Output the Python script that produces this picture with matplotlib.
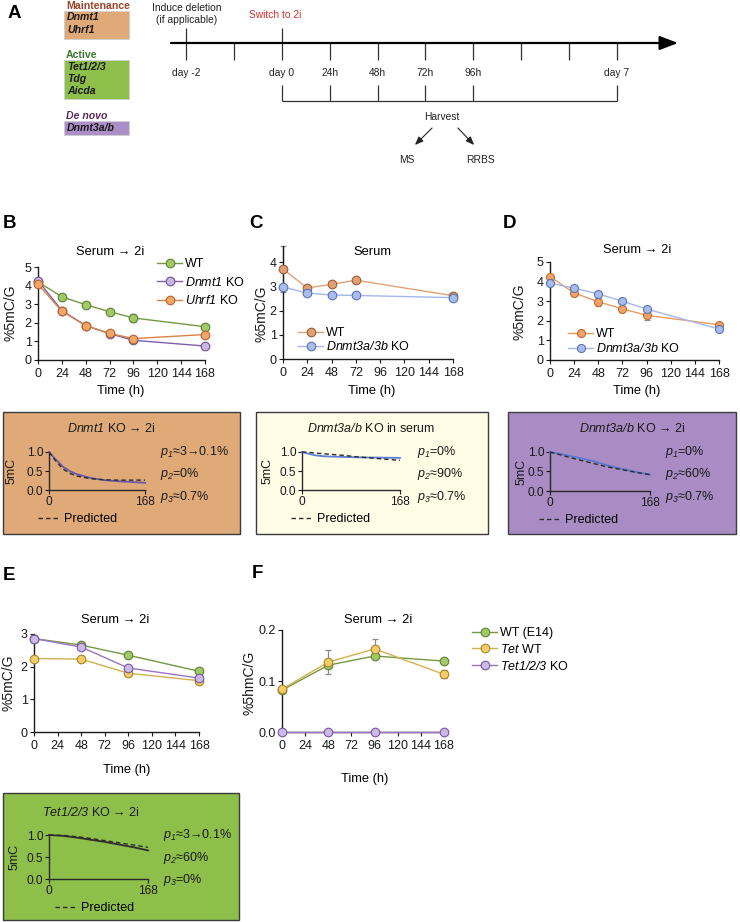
import matplotlib
matplotlib.use('Agg')
import matplotlib.pyplot as plt
from matplotlib.lines import Line2D
from matplotlib.patches import Rectangle

plt.rcParams['font.family'] = ['Liberation Sans', 'DejaVu Sans']
plt.rcParams['mathtext.fontset'] = 'custom'
plt.rcParams['mathtext.rm'] = 'Liberation Sans:italic'
plt.rcParams['mathtext.it'] = 'Liberation Sans:italic'
plt.rcParams['mathtext.bf'] = 'Liberation Sans:bold'

# ---------------- Data ----------------
timeline_days = [-2, -1, 0, 1, 2, 3, 4, 5, 6, 7]
timeline_labels = ['day -2', '', 'day 0', '24h', '48h', '72h', '96h', '', '', 'day 7']
harvest_days = [0, 1, 2, 3, 4, 7]

hours_B = [0, 24, 48, 72, 96, 168]
B_wt = [4.20, 3.40, 2.97, 2.60, 2.26, 1.79]
B_wt_err = [0.05, 0.05, 0.08, 0.05, 0.22, 0.05]
B_dnmt1 = [4.27, 2.66, 1.85, 1.42, 1.06, 0.75]
B_dnmt1_err = [0.05, 0.05, 0.05, 0.05, 0.08, 0.05]
B_uhrf1 = [4.08, 2.62, 1.85, 1.43, 1.15, 1.37]
B_uhrf1_err = [0.05, 0.05, 0.08, 0.06, 0.08, 0.05]

hours_C = [0, 24, 48, 72, 168]
C_wt = [3.71, 2.93, 3.08, 3.25, 2.61]
C_wt_err = [0.93, 0.05, 0.05, 0.05, 0.12]
C_ko = [2.97, 2.72, 2.64, 2.62, 2.53]
C_ko_err = [0.08, 0.05, 0.05, 0.05, 0.05]

hours_D = [0, 24, 48, 72, 96, 168]
D_wt = [4.25, 3.42, 2.97, 2.61, 2.28, 1.80]
D_wt_err = [0.08, 0.08, 0.20, 0.08, 0.22, 0.06]
D_ko = [3.93, 3.66, 3.37, 3.00, 2.60, 1.58]
D_ko_err = [0.06, 0.10, 0.06, 0.06, 0.06, 0.06]

hours_EF = [0, 48, 96, 168]
E_wt = [2.86, 2.66, 2.35, 1.86]
E_wt_err = [0.10, 0.05, 0.05, 0.08]
E_tetwt = [2.25, 2.23, 1.80, 1.57]
E_tetwt_err = [0.05, 0.05, 0.05, 0.05]
E_tko = [2.86, 2.60, 1.96, 1.65]
E_tko_err = [0.05, 0.05, 0.05, 0.05]
F_wt = [0.082, 0.131, 0.149, 0.139]
F_wt_err = [0.003, 0.004, 0.003, 0.003]
F_tetwt = [0.084, 0.137, 0.163, 0.113]
F_tetwt_err = [0.003, 0.024, 0.020, 0.008]
F_tko = [0.0, 0.0, 0.0, 0.0]

hours_model = [0, 12, 24, 36, 48, 72, 96, 120, 144, 168]
ins_B_fit = [1.0, 0.80, 0.62, 0.50, 0.42, 0.32, 0.26, 0.23, 0.21, 0.19]
ins_B_pred = [1.0, 0.76, 0.56, 0.44, 0.37, 0.30, 0.27, 0.26, 0.26, 0.26]
ins_C_fit = [1.0, 0.95, 0.91, 0.89, 0.88, 0.87, 0.86, 0.855, 0.85, 0.845]
ins_C_pred = [1.0, 0.99, 0.97, 0.955, 0.94, 0.91, 0.87, 0.84, 0.81, 0.78]
ins_D_fit = [1.0, 0.965, 0.93, 0.89, 0.85, 0.77, 0.66, 0.57, 0.49, 0.42]
ins_D_pred = [1.0, 0.95, 0.90, 0.85, 0.80, 0.71, 0.62, 0.55, 0.48, 0.42]
ins_E_fit = [1.0, 0.99, 0.98, 0.96, 0.94, 0.89, 0.84, 0.78, 0.72, 0.65]
ins_E_pred = [1.0, 0.995, 0.99, 0.975, 0.96, 0.92, 0.87, 0.82, 0.77, 0.72]

p_B = [r'$p_{1}$≈3→0.1%', r'$p_{2}$=0%', r'$p_{3}$≈0.7%']
p_C = [r'$p_{1}$=0%', r'$p_{2}$≈90%', r'$p_{3}$≈0.7%']
p_D = [r'$p_{1}$=0%', r'$p_{2}$≈60%', r'$p_{3}$≈0.7%']
p_E = [r'$p_{1}$≈3→0.1%', r'$p_{2}$≈60%', r'$p_{3}$=0%']

# ---------------- Figure ----------------
W, H = 740, 922
fig = plt.figure(figsize=(W / 100, H / 100), dpi=100)


def add_ax(l, r, t, b, **kw):
    return fig.add_axes([l / W, 1 - b / H, (r - l) / W, (b - t) / H], **kw)


canvas = fig.add_axes([0, 0, 1, 1])
canvas.set_xlim(0, W)
canvas.set_ylim(H, 0)
canvas.axis('off')

# colours
GREEN = dict(fc='#a3c867', ec='#5f7f32', lc='#759841')
PURPLE = dict(fc='#c9b8e2', ec='#6f4f9d', lc='#7d5faa')
ORANGE = dict(fc='#f2a769', ec='#b5662c', lc='#d68348')
SALMON = dict(fc='#dfa174', ec='#9c5d33', lc='#e2a171')
BLUE = dict(fc='#a9bdeb', ec='#5b72b6', lc='#a2b7ec')
ORANGE_D = dict(fc='#f1a36b', ec='#bd6d32', lc='#ee9b5e')
YELLOW = dict(fc='#f2cd68', ec='#a8852a', lc='#d3b04f')
PURPLE_E = dict(fc='#cbbae5', ec='#7a55a6', lc='#9b73c4')

FS = 9

# ---------------- Panel A ----------------
canvas.text(8, 13, 'A', fontsize=13.5, fontweight='bold', va='center', ha='left')

def gene_box(label, label_color, label_style, y_label, y0, y1, fc, genes, ys):
    canvas.text(66, y_label, label, color=label_color, fontsize=7.6, fontweight='bold',
                fontstyle=label_style, va='center', ha='left')
    canvas.add_patch(Rectangle((64, y0), 65, y1 - y0, fc=fc, ec='#d0d0d0', lw=0.6))
    for g, yy in zip(genes, ys):
        canvas.text(67, yy, g, fontsize=7.6, fontweight='bold', fontstyle='italic',
                    va='center', ha='left', color='#1a1a1a')

gene_box('Maintenance', '#9a4628', 'normal', 6, 11, 39, '#dfaa78', ['Dnmt1', 'Uhrf1'], [17.5, 30])
gene_box('Active', '#3b7a2c', 'normal', 54.5, 60, 99, '#8dbf4a', ['Tet1/2/3', 'Tdg', 'Aicda'], [67.5, 79.5, 91])
gene_box('De novo', '#5a2a5c', 'italic', 116, 121, 135, '#ad8fc8', ['Dnmt3a/b'], [128])

px_day = 47.8
day0 = 282
tl = add_ax(171, 680, 0, 175)
tl.set_xlim((171 - day0) / px_day, (680 - day0) / px_day)
tl.set_ylim(175, 0)
tl.axis('off')
x0, x1 = tl.get_xlim()
tl.annotate('', xy=((678 - day0) / px_day, 43), xytext=(x0, 43),
            arrowprops=dict(arrowstyle='-|>,head_length=1.1,head_width=0.42', lw=1.6,
                            color='black', mutation_scale=10, shrinkA=0, shrinkB=0))
tl.vlines(timeline_days, 43, 60, color='#333333', lw=0.9)
tl.vlines([timeline_days[0], timeline_days[2]], 28, 43, color='#333333', lw=0.9)
for d, lab in zip(timeline_days, timeline_labels):
    if lab:
        tl.text(d, 73, lab, ha='center', va='center', fontsize=7.4, color='#222222')
tl.vlines(harvest_days, 85, 101.5, color='#333333', lw=0.9)
tl.hlines(101.5, harvest_days[0], harvest_days[-1], color='#333333', lw=0.9)
tl.text(timeline_days[0], 8, 'Induce deletion', ha='center', va='center', fontsize=7.4, color='#222222')
tl.text(timeline_days[0], 20, '(if applicable)', ha='center', va='center', fontsize=7.4, color='#222222')
tl.text(-0.15, 14.5, 'Switch to 2i', ha='center', va='center', fontsize=7.4, color='#d2302f')
tl.text(3.35, 117, 'Harvest', ha='center', va='center', fontsize=7.4, color='#222222')
tl.annotate('', xy=(2.78, 145), xytext=(3.14, 128),
            arrowprops=dict(arrowstyle='-|>,head_length=0.5,head_width=0.2', lw=0.8, color='#222222',
                            mutation_scale=10, shrinkA=0, shrinkB=0))
tl.annotate('', xy=(4.02, 145), xytext=(3.68, 128),
            arrowprops=dict(arrowstyle='-|>,head_length=0.5,head_width=0.2', lw=0.8, color='#222222',
                            mutation_scale=10, shrinkA=0, shrinkB=0))
tl.text(2.62, 160, 'MS', ha='center', va='center', fontsize=7.4, color='#222222')
tl.text(4.16, 160, 'RRBS', ha='center', va='center', fontsize=7.4, color='#222222')


# ---------------- helpers ----------------
def style_ax(ax, ylim, yticks, yticklabels=None, xticks=(0, 24, 48, 72, 96, 120, 144, 168)):
    ax.set_xlim(0, 168)
    ax.set_ylim(*ylim)
    for s in ('top', 'right'):
        ax.spines[s].set_visible(False)
    for s in ('left', 'bottom'):
        ax.spines[s].set_linewidth(1.0)
        ax.spines[s].set_color('#1a1a1a')
    ax.set_xticks(list(xticks))
    ax.set_yticks(yticks)
    if yticklabels is not None:
        ax.set_yticklabels(yticklabels)
    ax.tick_params(axis='both', direction='out', length=3, width=0.8, labelsize=FS, colors='#1a1a1a')
    ax.tick_params(axis='x', pad=2.5)
    ax.tick_params(axis='y', pad=1.5)


def series(ax, x, y, err, c, label, ms=6.2, lw=1.0):
    ax.errorbar(x, y, yerr=err, fmt='none', ecolor='#8a8a8a', elinewidth=0.9, capsize=2.5,
                capthick=0.9, zorder=2, clip_on=False)
    ax.plot(x, y, '-', color=c['lc'], lw=lw, marker='o', ms=ms, mfc=c['fc'], mec=c['ec'], mew=0.8,
            label=label, zorder=3, clip_on=False)


def legend_at(ax, x_px, y_px, spacing, fs=FS):
    ax.legend(loc='upper left', bbox_to_anchor=(x_px / W, 1 - y_px / H), bbox_transform=fig.transFigure,
              frameon=False, fontsize=fs, handlelength=2.0, handletextpad=0.25, labelspacing=spacing,
              borderpad=0, borderaxespad=0, numpoints=1)


def ylabel_at(ax, text, x_px, y_px, fs=10):
    fig.text(x_px / W, 1 - y_px / H, text, rotation=90, ha='center', va='center', fontsize=fs, color='#1a1a1a')


def ftext(x_px, y_px, s, **kw):
    fig.text(x_px / W, 1 - y_px / H, s, **kw)


# ---------------- Panel B ----------------
ftext(9, 224, 'B', fontsize=13.5, fontweight='bold', ha='center', va='center')
axB = add_ax(38, 205, 267, 360)
style_ax(axB, (0, 5), [0, 1, 2, 3, 4, 5])
series(axB, hours_B, B_wt, B_wt_err, GREEN, 'WT')
series(axB, hours_B, B_dnmt1, B_dnmt1_err, PURPLE, r'$\mathit{Dnmt1}$ KO')
series(axB, hours_B, B_uhrf1, B_uhrf1_err, ORANGE, r'$\mathit{Uhrf1}$ KO')
legend_at(axB, 157, 258, 0.45)
ftext(110, 252, 'Serum → 2i', fontsize=9.3, ha='center', va='center')
ftext(121, 391, 'Time (h)', fontsize=9.3, ha='center', va='center')
ylabel_at(axB, '%5mC/G', 11, 313)

# ---------------- Panel C ----------------
ftext(256, 224, 'C', fontsize=13.5, fontweight='bold', ha='center', va='center')
axC = add_ax(283, 453, 246, 359)
style_ax(axC, (0, 4.66), [0, 1, 2, 3, 4])
series(axC, hours_C, C_wt, C_wt_err, SALMON, 'WT')
series(axC, hours_C, C_ko, C_ko_err, BLUE, r'$\mathit{Dnmt3a/3b}$ KO')
legend_at(axC, 298, 327, 0.12)
ftext(372, 252, 'Serum', fontsize=9.3, ha='center', va='center')
ftext(372, 391, 'Time (h)', fontsize=9.3, ha='center', va='center')
ylabel_at(axC, '%5mC/G', 261, 314)

# ---------------- Panel D ----------------
ftext(510, 224, 'D', fontsize=13.5, fontweight='bold', ha='center', va='center')
axD = add_ax(550, 719, 262, 360)
style_ax(axD, (0, 5), [0, 1, 2, 3, 4, 5])
series(axD, hours_D, D_wt, D_wt_err, ORANGE_D, 'WT', ms=5.8)
series(axD, hours_D, D_ko, D_ko_err, BLUE, r'$\mathit{Dnmt3a/3b}$ KO', ms=5.8)
legend_at(axD, 568, 328, 0.18)
ftext(637, 250, 'Serum → 2i', fontsize=9.3, ha='center', va='center')
ftext(637, 391, 'Time (h)', fontsize=9.3, ha='center', va='center')
ylabel_at(axD, '%5mC/G', 519, 312)


# ---------------- Insets ----------------
def inset(box, axbox, title, title_x, fit, fit_color, pred, plabels, p_x, pred_x, ylab_x, fc):
    bx0, bx1, by0, by1 = box
    canvas.add_patch(Rectangle((bx0, by0), bx1 - bx0, by1 - by0, fc=fc, ec='#3c3c3c', lw=1.0))
    l, r, t, b = axbox
    ax = add_ax(l, r, t, b)
    ax.patch.set_visible(False)
    ax.set_xlim(0, 168)
    ax.set_ylim(0, 1.0)
    for s in ('top', 'right'):
        ax.spines[s].set_visible(False)
    for s in ('left', 'bottom'):
        ax.spines[s].set_linewidth(1.0)
        ax.spines[s].set_color('#2a2a2a')
    ax.set_xticks([0, 168])
    ax.set_yticks([0, 0.5, 1.0])
    ax.set_yticklabels(['0.0', '0.5', '1.0'])
    ax.tick_params(axis='both', direction='out', length=3, width=0.8, labelsize=8.6, colors='#1a1a1a')
    ax.tick_params(axis='x', pad=1.5)
    ax.tick_params(axis='y', pad=1.0)
    ax.plot(hours_model, fit, '-', color=fit_color, lw=1.3, zorder=3, clip_on=False)
    ax.plot(hours_model, pred, color='#2a2a2a', lw=1.0, ls=(0, (3.2, 2.2)), zorder=4, clip_on=False)
    ftext(title_x, t - 23, title, fontsize=9, ha='center', va='center', color='#1a1a1a')
    ylabel_at(ax, '5mC', ylab_x, (t + b) / 2, fs=9)
    for k, s in enumerate(plabels):
        ftext(p_x, t + k * 22.5, s, fontsize=9, ha='left', va='center', color='#1a1a1a')
    h = [Line2D([0], [0], color='#2a2a2a', lw=1.0, ls=(0, (3.2, 2.2)))]
    ax.legend(h, ['Predicted'], loc='center left', bbox_to_anchor=(pred_x / W, 1 - (b + 29) / H),
              bbox_transform=fig.transFigure, frameon=False, fontsize=9, handlelength=1.7,
              handletextpad=0.35, borderpad=0, borderaxespad=0)
    return ax


inset((3, 240, 412, 534), (49, 145, 452, 490), r'$\mathit{Dnmt1}$ KO → 2i', 111,
      ins_B_fit, '#6c58a8', ins_B_pred, p_B, 160, 38, 12, '#dfaa78')
inset((256, 488, 412, 534), (302, 400, 452, 490), r'$\mathit{Dnmt3a/b}$ KO in serum', 371,
      ins_C_fit, '#5b7fd6', ins_C_pred, p_C, 417, 291, 268, '#fffde6')
inset((508, 736, 412, 534), (550, 650, 452, 491), r'$\mathit{Dnmt3a/b}$ KO → 2i', 632,
      ins_D_fit, '#5a78cc', ins_D_pred, p_D, 665, 539, 522, '#a98cc3')
inset((3, 239, 793, 920), (49, 148, 835, 879), r'$\mathit{Tet1/2/3}$ KO → 2i', 91,
      ins_E_fit, '#2e2e2e', ins_E_pred, p_E, 163, 55, 15, '#8dbf4a')

# ---------------- Panel E ----------------
ftext(9, 575, 'E', fontsize=13.5, fontweight='bold', ha='center', va='center')
axE = add_ax(34, 199, 634, 732)
style_ax(axE, (0, 3), [0, 1, 2, 3])
series(axE, hours_EF, E_wt, E_wt_err, GREEN, 'WT (E14)')
series(axE, hours_EF, E_tetwt, E_tetwt_err, YELLOW, r'$\mathit{Tet}$ WT')
series(axE, hours_EF, E_tko, E_tko_err, PURPLE_E, r'$\mathit{Tet1/2/3}$ KO')
ftext(115, 620, 'Serum → 2i', fontsize=9.3, ha='center', va='center')
ftext(127, 770, 'Time (h)', fontsize=9.3, ha='center', va='center')
ylabel_at(axE, '%5mC/G', 9, 683)

# ---------------- Panel F ----------------
ftext(257, 573, 'F', fontsize=13.5, fontweight='bold', ha='center', va='center')
axF = add_ax(282, 444, 630, 732)
style_ax(axF, (0, 0.2), [0.0, 0.1, 0.2], ['0.0', '0.1', '0.2'])
series(axF, hours_EF, F_wt, F_wt_err, GREEN, 'WT (E14)')
series(axF, hours_EF, F_tetwt, F_tetwt_err, YELLOW, r'$\mathit{Tet}$ WT')
series(axF, hours_EF, F_tko, [0, 0, 0, 0], PURPLE_E, r'$\mathit{Tet1/2/3}$ KO')
legend_at(axF, 472, 627, 0.3)
ftext(378, 620, 'Serum → 2i', fontsize=9.3, ha='center', va='center')
ftext(365, 779, 'Time (h)', fontsize=9.3, ha='center', va='center')
ylabel_at(axF, '%5hmC/G', 250, 683)

fig.savefig('out.png', dpi=100)
